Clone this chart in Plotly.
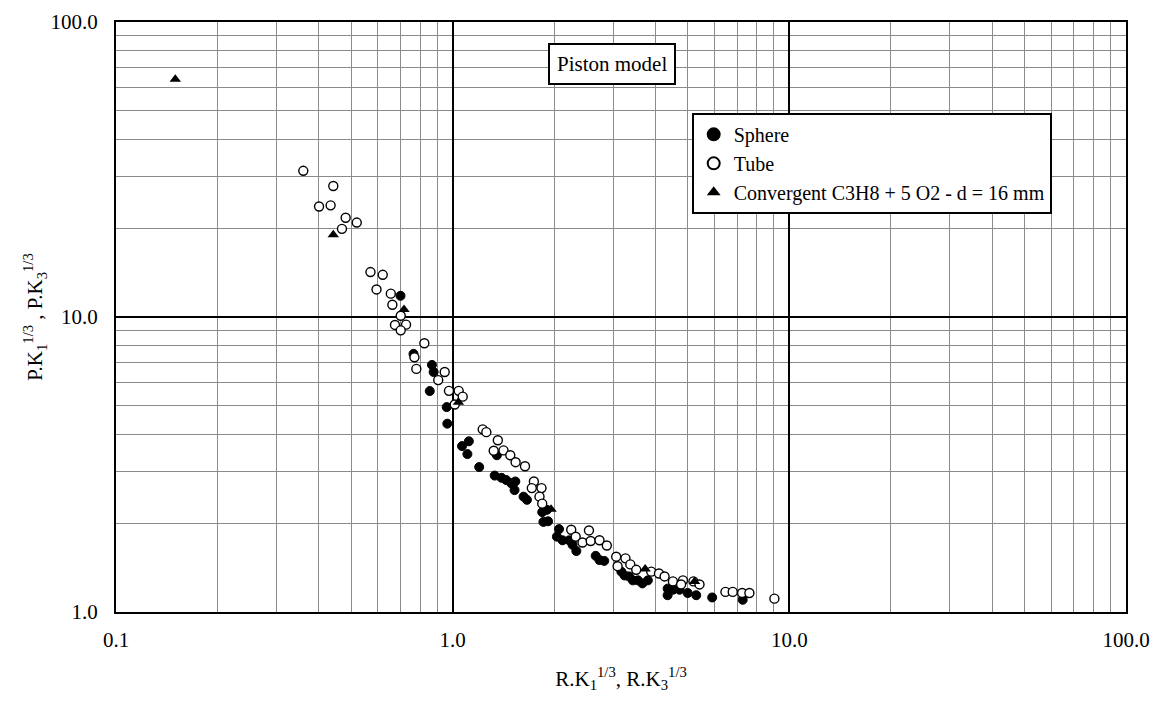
import plotly.graph_objects as go

# ---- data ----
sphere_x = [0.700, 0.765, 0.868, 0.878, 0.855, 0.960, 0.964, 1.117, 1.066, 1.106,
            1.353, 1.199, 1.333, 1.397, 1.443, 1.494, 1.535, 1.527, 1.624, 1.662,
            1.845, 1.905, 1.86, 1.92, 2.07, 2.04, 2.12, 2.22, 2.27, 2.33,
            2.66, 2.73, 2.82, 3.17, 3.24, 3.34, 3.43, 3.55, 3.66, 3.80,
            4.35, 4.35, 4.51, 4.72, 4.99, 5.29, 5.90, 7.27]
sphere_y = [11.8, 7.5, 6.88, 6.51, 5.61, 4.95, 4.35, 3.79, 3.65, 3.43,
            3.40, 3.10, 2.90, 2.85, 2.80, 2.73, 2.77, 2.59, 2.46, 2.40,
            2.18, 2.22, 2.02, 2.03, 1.91, 1.80, 1.75, 1.75, 1.69, 1.61,
            1.55, 1.50, 1.49, 1.37, 1.33, 1.32, 1.28, 1.28, 1.25, 1.28,
            1.20, 1.14, 1.19, 1.19, 1.16, 1.14, 1.12, 1.10]

tube_x = [0.360, 0.442, 0.401, 0.434, 0.481, 0.519, 0.469, 0.570, 0.620, 0.594,
          0.655, 0.662, 0.701, 0.674, 0.727, 0.701, 0.824, 0.77, 0.780, 0.947,
          0.906, 0.975, 1.042, 1.071, 1.014, 1.228, 1.259, 1.362, 1.324, 1.416,
          1.483, 1.538, 1.640, 1.743, 1.718, 1.836, 1.811, 1.845, 2.25, 2.54,
          2.32, 2.43, 2.57, 2.73, 2.87, 3.06, 3.26, 3.09, 3.37, 3.51,
          3.89, 4.10, 4.26, 4.51, 4.83, 5.19, 5.41, 4.77, 6.46, 6.79,
          7.24, 7.61, 9.03]
tube_y = [31.3, 27.8, 23.7, 23.9, 21.7, 20.9, 19.9, 14.2, 13.9, 12.4,
          12.0, 11.0, 10.1, 9.40, 9.42, 9.01, 8.15, 7.3, 6.67, 6.51,
          6.11, 5.62, 5.62, 5.37, 5.05, 4.16, 4.07, 3.82, 3.52, 3.53,
          3.40, 3.22, 3.12, 2.77, 2.63, 2.63, 2.46, 2.33, 1.90, 1.89,
          1.80, 1.72, 1.74, 1.75, 1.68, 1.54, 1.52, 1.43, 1.45, 1.39,
          1.37, 1.35, 1.32, 1.27, 1.28, 1.27, 1.24, 1.24, 1.17, 1.17,
          1.16, 1.16, 1.11]

conv_x = [0.150, 0.442, 0.717, 1.04, 1.96, 3.73, 5.23]
conv_y = [64.0, 19.0, 10.6, 5.14, 2.23, 1.40, 1.27]

x_ticks = [0.1, 1, 10, 100]
x_ticklabels = ["0.1", "1.0", "10.0", "100.0"]
y_ticks = [1, 10, 100]
y_ticklabels = ["1.0", "10.0", "100.0"]

minor_x = [m * d for d in (0.1, 1, 10) for m in range(2, 10)]
minor_y = [m * d for d in (1, 10) for m in range(2, 10)]

FONT = "Liberation Serif"

fig = go.Figure()
fig.add_trace(go.Scatter(
    x=sphere_x, y=sphere_y, mode="markers", name="Sphere",
    marker=dict(symbol="circle", size=9, color="black",
                line=dict(color="black", width=1))))
fig.add_trace(go.Scatter(
    x=tube_x, y=tube_y, mode="markers", name="Tube",
    marker=dict(symbol="circle", size=9, color="white",
                line=dict(color="black", width=1.4))))
fig.add_trace(go.Scatter(
    x=conv_x, y=conv_y, mode="markers",
    name="Convergent C3H8 + 5 O2 - d = 16 mm",
    marker=dict(symbol="triangle-up", size=10, color="black",
                line=dict(color="black", width=0))))

axis_common = dict(
    type="log", showline=True, mirror=True, linecolor="black", linewidth=2,
    showgrid=True, gridcolor="black", gridwidth=1.6, zeroline=False,
    ticks="outside", tickcolor="rgba(0,0,0,0)", automargin=False,
    tickfont=dict(family=FONT, size=21, color="black"),
)

fig.update_xaxes(
    **axis_common, range=[-1, 2], tickvals=x_ticks, ticktext=x_ticklabels,
    ticklen=8,
    minor=dict(tickvals=minor_x, showgrid=True, gridcolor="#8a8a8a",
               gridwidth=1, ticks=""),
    title=dict(text="R.K<sub>1</sub><sup>1/3</sup>, R.K<sub>3</sub><sup>1/3</sup>",
               font=dict(family=FONT, size=21, color="black"), standoff=20),
)
fig.update_yaxes(
    **axis_common, range=[0, 2], tickvals=y_ticks, ticktext=y_ticklabels,
    ticklen=12,
    minor=dict(tickvals=minor_y, showgrid=True, gridcolor="#8a8a8a",
               gridwidth=1, ticks=""),
    title=dict(text="P.K<sub>1</sub><sup>1/3</sup> , P.K<sub>3</sub><sup>1/3</sup>",
               font=dict(family=FONT, size=21, color="black"), standoff=2),
)

fig.add_annotation(
    text="Piston model", xref="paper", yref="paper", x=0.491, y=0.929,
    xanchor="center", yanchor="middle",
    showarrow=False, font=dict(family=FONT, size=21, color="black"),
    bordercolor="black", borderwidth=2, borderpad=7, bgcolor="white",
)

fig.update_layout(
    width=1160, height=701,
    margin=dict(l=108, r=42, t=14, b=97),
    paper_bgcolor="white", plot_bgcolor="white",
    font=dict(family=FONT, size=21, color="black"),
    legend=dict(
        x=0.570, y=0.846, xanchor="left", yanchor="top",
        bgcolor="white", bordercolor="black", borderwidth=2,
        font=dict(family=FONT, size=20, color="black"),
        itemsizing="constant", tracegroupgap=0,
    ),
    showlegend=True,
)

fig.write_html("out.html")
